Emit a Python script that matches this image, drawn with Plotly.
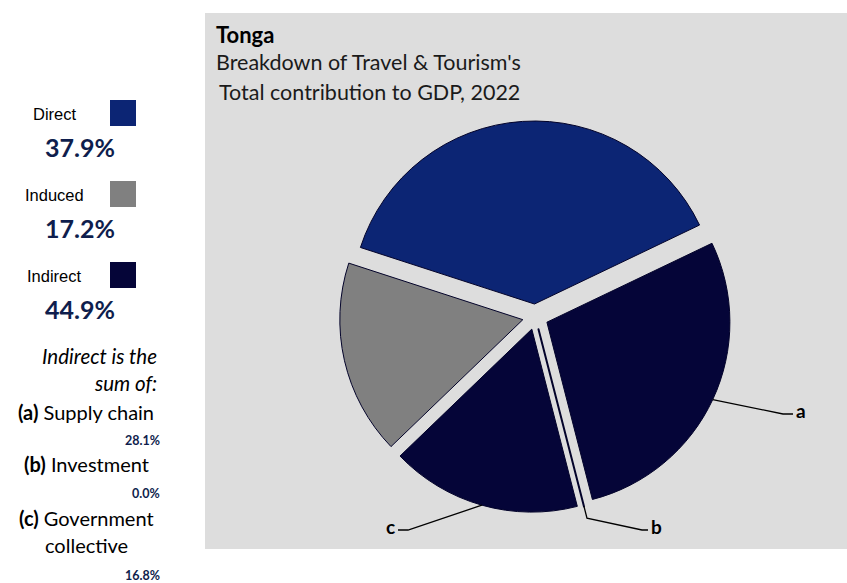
import math
import plotly.graph_objects as go

W, H = 847, 583

# ---- data -------------------------------------------------------------
slice_labels = ["Direct", "a", "b", "c", "Induced"]
slice_values = [37.9, 28.1, 0.0, 16.8, 17.2]
slice_colors = ["#0C2574", "#050538", "#050538", "#050538", "#808080"]

summary_names = ["Direct", "Induced", "Indirect"]
summary_values = [37.9, 17.2, 44.9]
summary_colors = ["#0C2574", "#808080", "#050538"]

indirect_keys = ["a", "b", "c"]
indirect_names = ["Supply chain", "Investment", "Government"]
indirect_values = [28.1, 0.0, 16.8]

country = "Tonga"
subtitle = ["Breakdown of Travel & Tourism's", "Total contribution to GDP, 2022"]

# ---- pie geometry (pixels) -------------------------------------------
CX, CY, R = 535.3, 316.8, 183.0
PULL = 0.07
ROTATION = -72
BG = "#DDDDDD"
NAVY_TXT = "#0F1E4D"
SANS = "Lato"


def px(x):
    return x / W


def py(y):
    return 1 - y / H


box = 2 * R * (1 + PULL)
dom_x = [px(CX - box / 2), px(CX + box / 2)]
dom_y = [py(CY + box / 2), py(CY - box / 2)]

fig = go.Figure()
fig.add_trace(go.Pie(
    labels=slice_labels,
    values=slice_values,
    sort=False,
    direction="clockwise",
    rotation=ROTATION,
    pull=[PULL] * len(slice_values),
    marker=dict(colors=slice_colors,
                line=dict(color="#03032A", width=[1, 1, 2, 1, 1])),
    textinfo="none",
    hoverinfo="label+percent",
    showlegend=False,
    domain=dict(x=dom_x, y=dom_y),
))

# grey panel behind the chart
shapes = [dict(type="rect", xref="paper", yref="paper", layer="below",
               x0=px(205), x1=px(847), y0=py(549), y1=py(13),
               fillcolor=BG, line=dict(width=0))]

annotations = []


def text(x, y, s, size, color="#000000", family=SANS, xanchor="left"):
    annotations.append(dict(x=px(x), y=py(y), xref="paper", yref="paper",
                            text=s, showarrow=False, xanchor=xanchor,
                            yanchor="middle", borderpad=0,
                            font=dict(size=size, color=color, family=family)))


# titles
text(215, 34, "<b>%s</b>" % country, 22)
text(215, 62, subtitle[0], 21.5, "#1A1A1A")
text(218, 92, subtitle[1], 21.5, "#1A1A1A")

# summary legend on the left
sum_rows = [114, 195, 276]
for name, val, col, y in zip(summary_names, summary_values, summary_colors, sum_rows):
    text(55, y, name, 16.5, "#000000", "Liberation Sans", "center")
    shapes.append(dict(type="rect", xref="paper", yref="paper",
                       x0=px(110), x1=px(136), y0=py(y + 12), y1=py(y - 14),
                       fillcolor=col, line=dict(width=0)))
    text(80, y + 33, "<b>%.1f%%</b>" % val, 25, NAVY_TXT, SANS, "center")

text(158, 356, "<i>Indirect is the</i>", 20.5, "#000000", SANS, "right")
text(158, 383, "<i>sum of:</i>", 20.5, "#000000", SANS, "right")

ind_rows = [412, 464, 518]
for key, name, val, y in zip(indirect_keys, indirect_names, indirect_values, ind_rows):
    text(86, y, "<b>(%s)</b> %s" % (key, name), 20, "#000000", SANS, "center")
text(86, 545, "collective", 20, "#000000", SANS, "center")
pct_rows = [440, 493, 575]
for val, y in zip(indirect_values, pct_rows):
    text(161, y, "<b>%.1f%%</b>" % val, 12.5, NAVY_TXT, SANS, "right")

# leader lines for the indirect components, from each slice's mid-angle
total = sum(slice_values)
mid = {}
acc = 0.0
for lab, v in zip(slice_labels, slice_values):
    mid[lab] = math.radians(ROTATION + 360 * (acc + v / 2) / total)
    acc += v

leader_style = {
    # key: (radial extension beyond arc, knee point, tail length, side)
    "a": (0, (783, 414), 10, "right"),
    "b": (12, (642, 530), 6, "right"),
    "c": (0, (408, 530), 10, "left"),
}
for key in indirect_keys:
    th = mid[key]
    ux, uy = math.sin(th), -math.cos(th)
    ox, oy = CX + PULL * R * ux, CY + PULL * R * uy
    ext, knee, tail, side = leader_style[key]
    x0, y0 = ox + R * ux, oy + R * uy
    x1, y1 = ox + (R + ext) * ux, oy + (R + ext) * uy
    sgn = 1 if side == "right" else -1
    x3 = knee[0] + sgn * tail
    path = "M %f %f L %f %f L %f %f L %f %f" % (
        px(x0), py(y0), px(x1), py(y1), px(knee[0]), py(knee[1]), px(x3), py(knee[1]))
    shapes.append(dict(type="path", xref="paper", yref="paper", path=path,
                       line=dict(color="#000000", width=1.3)))
    if side == "right":
        text(x3 + 2, knee[1] - 4, "<b>%s</b>" % key, 19, "#000000", SANS, "left")
    else:
        text(x3 - 2, knee[1] - 4, "<b>%s</b>" % key, 19, "#000000", SANS, "right")

fig.update_layout(
    width=W, height=H,
    margin=dict(l=0, r=0, t=0, b=0),
    paper_bgcolor="#FFFFFF",
    plot_bgcolor="#FFFFFF",
    shapes=shapes,
    annotations=annotations,
)

fig.write_html("out.html")
